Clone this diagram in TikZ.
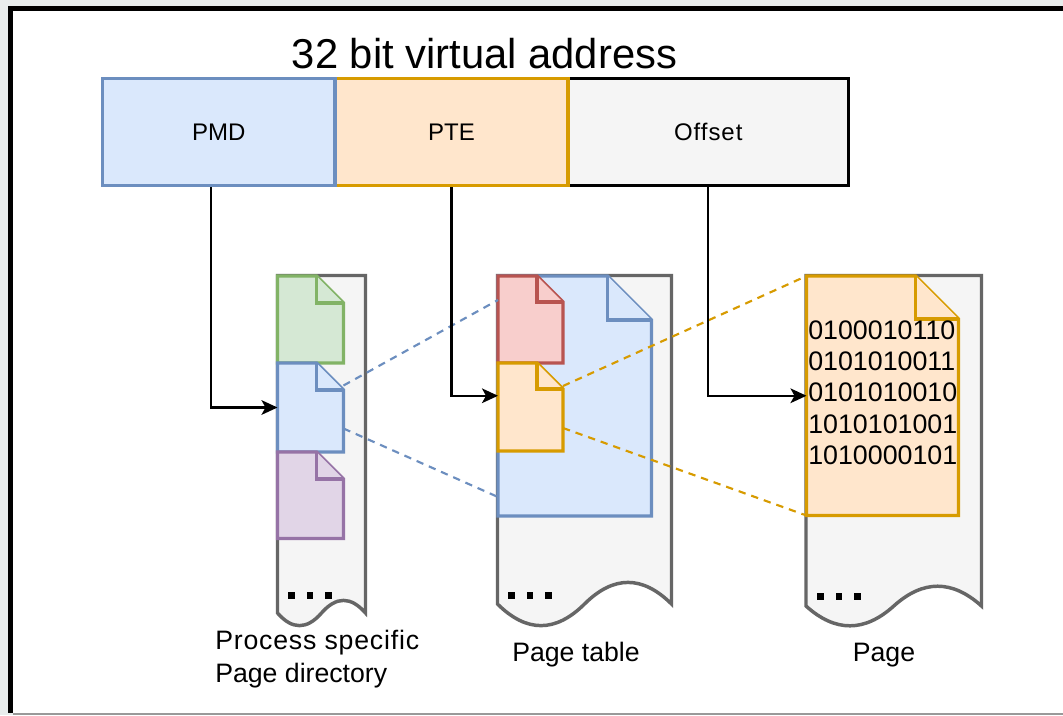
\documentclass[tikz,border=0pt]{standalone}
\usepackage{fontspec}
\setmainfont{Liberation Sans}
\usetikzlibrary{arrows.meta,calc}

\definecolor{frameGrey}{HTML}{E9EDED}
\definecolor{blueLine}{HTML}{6C8EBF}
\definecolor{blueFill}{HTML}{DAE8FC}
\definecolor{orangeLine}{HTML}{D79B00}
\definecolor{orangeFill}{HTML}{FFE6CC}
\definecolor{greenLine}{HTML}{82B366}
\definecolor{greenFill}{HTML}{D5E8D4}
\definecolor{purpleLine}{HTML}{9673A6}
\definecolor{purpleFill}{HTML}{E1D5E7}
\definecolor{redLine}{HTML}{B85450}
\definecolor{redFill}{HTML}{F8CECC}
\definecolor{tapeLine}{HTML}{666666}
\definecolor{tapeFill}{HTML}{F5F5F5}

% memory strip with a wavy lower edge: left, right, top, wave ends y, wave depth
\newcommand\tapeshape[5]{%
  \pgfmathsetmacro\tw{#2-#1}%
  \pgfmathsetmacro\tA{#4-0.6*#5}%
  \pgfmathsetmacro\tB{#4+0.6*#5}%
  \filldraw[tape] (#1,#3) -- (#2,#3) -- (#2,#4)
    .. controls ({#2-\tw/6},\tA) and ({#1+\tw*2/3},\tA) .. ({#1+\tw/2},#4)
    .. controls ({#1+\tw/3},\tB) and ({#1+\tw/6},\tB) .. (#1,#4) -- cycle;}

% document with a folded corner: name, x, y, width, height, fold, style
\newcommand\notedoc[7]{%
  \node[inner sep=0pt, outer sep=0pt, minimum width={#4*0.75pt},
        minimum height={#5*0.75pt}, anchor=north west] (#1) at (#2,#3) {};
  \filldraw[#7] (#1.north west) -- ++({#4-#6},0) -- ++(#6,#6)
    -- (#1.south east) -- (#1.south west) -- cycle;
  \draw[#7] ($(#1.north west)+({#4-#6},0)$) -- ++(0,#6) -- ++(#6,0);}

\begin{document}
\begin{tikzpicture}[x=0.75pt,y=-0.75pt,line join=miter,
  field/.style={draw, line width=2.9pt, minimum width=174.4pt,
    minimum height=80.25pt, inner sep=0pt, font=\fontsize{18}{21}\selectfont},
  tape/.style={draw=tapeLine, fill=tapeFill, line width=2.6pt},
  doc/.style 2 args={draw=#1, fill=#2, line width=2.6pt},
  arr/.style={draw=black, line width=1.6pt,
    -{Stealth[length=12pt, width=11pt, inset=3pt]}},
  link/.style={draw=#1, line width=1.6pt, dash pattern=on 5.5pt off 4.5pt},
  caption/.style={font=\fontsize{20}{24.75}\selectfont, inner sep=0pt},
  dot/.style={fill=black}]

\useasboundingbox (0,0) rectangle (1063,715);

% window frame
\fill[frameGrey] (0,0) rectangle (1063,715);
\fill[white] (10,8) rectangle (1063,713);
\draw[black, line width=3.75pt] (8,8.5) -- (1063,8.5);
\draw[black, line width=3.75pt] (10.5,6) -- (10.5,713);
\draw[black!40, line width=1.5pt] (13,713.5) -- (1063,713.5);

% title
\node[font=\fontsize{31.3}{37}\selectfont, inner sep=0pt] (title) at (484.5,54) {32 bit virtual address};

% address fields
\node[field, draw=black, fill=tapeFill, minimum width=210.4pt] (off) at (708.25,132)
  {\addfontfeature{LetterSpace=4}Offset};
\node[field, draw=orangeLine, fill=orangeFill] (pte) at (451.5,132) {PTE};
\node[field, draw=blueLine, fill=blueFill] (pmd) at (218.75,132) {PMD};

% memory strips
\tapeshape{277.5}{365.5}{275.5}{613}{28}
\tapeshape{497.5}{671.5}{275.5}{604}{48}
\tapeshape{806}{981.5}{275.5}{606}{44}

% page directory entries
\notedoc{pdGreen}{277.5}{276}{66}{87}{27}{doc={greenLine}{greenFill}}
\notedoc{pdBlue}{277.5}{363}{66}{89}{27}{doc={blueLine}{blueFill}}
\notedoc{pdPurple}{277.5}{452}{66}{86.5}{27}{doc={purpleLine}{purpleFill}}

% page table
\notedoc{ptBig}{498}{276}{153.5}{240}{44}{doc={blueLine}{blueFill}}
\notedoc{ptRed}{498}{276}{65}{87}{26}{doc={redLine}{redFill}}
\notedoc{ptOrange}{498}{363}{65}{88}{26}{doc={orangeLine}{orangeFill}}

% page
\notedoc{pg}{806.5}{276}{152}{239.5}{43}{doc={orangeLine}{orangeFill}}
\node[anchor=west, align=left, inner sep=0pt,
      font=\fontsize{20.1}{23.5}\selectfont] (bits) at (808,392.5)
  {0100010110\\0101010011\\0101010010\\1010101001\\1010000101};

% continuation marks
\foreach \x in {288,306.5,325} \fill[dot] (\x,592) rectangle ++(6.5,6.5);
\foreach \x in {508,526.5,545} \fill[dot] (\x,592) rectangle ++(6.5,6.5);
\foreach \x in {817,835.5,854} \fill[dot] (\x,593) rectangle ++(6.5,6.5);

% zoom lines
\draw[link=blueLine] ($(pdBlue.east)+(0,-22)$) -- ($(ptBig.north west)+(0,24)$);
\draw[link=blueLine] ($(pdBlue.east)+(0,21)$) -- ($(ptBig.south west)+(0,-19)$);
\draw[link=orangeLine] ($(ptOrange.east)+(0,-21)$) -- (pg.north west);
\draw[link=orangeLine] ($(ptOrange.east)+(0,21)$) -- (pg.south west);

% lookups
\draw[arr] ([xshift=-5.8pt]pmd.south) |- (pdBlue.west);
\draw[arr] (pte.south) |- (ptOrange.west |- pg.west);
\draw[arr] (off.south) |- (pg.west);

% captions
\node[caption, anchor=west, align=left] (capDir) at (215,659.5)
  {\addfontfeature{LetterSpace=3}Process specific\\Page directory};
\node[caption] (capTable) at (576,655) {Page table};
\node[caption] (capPage) at (884,655) {Page};

\end{tikzpicture}
\end{document}
